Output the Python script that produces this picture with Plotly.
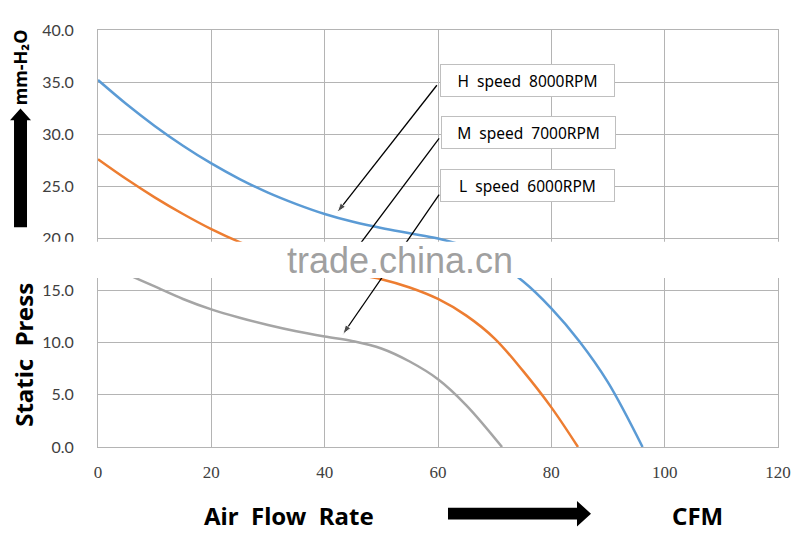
import plotly.graph_objects as go

# fan P-Q curves (CFM vs mm-H2O)
h_cfm = [0, 5, 10, 15, 20, 25, 30, 35, 40, 45, 50, 55, 60, 65, 70, 75, 80, 85, 90, 96.1]
h_p = [35.2, 32.9, 30.8, 28.9, 27.2, 25.7, 24.4, 23.3, 22.35, 21.6, 21.0, 20.5, 20.0, 19.2, 17.8, 15.9, 13.3, 10.1, 6.2, 0]

m_cfm = [0, 5, 10, 15, 20, 25, 30, 35, 40, 45, 50, 55, 60, 65, 70, 75, 80, 84.7]
m_p = [27.6, 25.7, 23.95, 22.35, 20.9, 19.65, 18.6, 17.75, 17.1, 16.6, 16.1, 15.3, 14.2, 12.6, 10.4, 7.3, 3.8, 0]

l_cfm = [0, 5, 10, 15, 20, 25, 30, 35, 40, 45, 50, 55, 60, 65, 71.3]
l_p = [17.9, 16.6, 15.4, 14.2, 13.2, 12.4, 11.7, 11.1, 10.6, 10.15, 9.45, 8.2, 6.5, 4.0, 0]

labels = ["H\u00a0 speed\u00a0 8000RPM", "M\u00a0 speed\u00a0 7000RPM", "L\u00a0 speed\u00a0 6000RPM"]
label_x = [75.8, 76.0, 75.8]
label_y = [35.2, 30.2, 25.1]

# callout arrows: from box edge to the curve
arrow_x0 = [59.8, 60.2, 60.2]
arrow_y0 = [34.7, 29.6, 24.2]
arrow_x1 = [42.2, 43.1, 43.2]
arrow_y1 = [22.5, 17.2, 10.8]

colors = ["#5B9BD5", "#ED7D31", "#A5A5A5"]
grid = "#B4B4B4"

# plot area in screen pixels (page has an 8px body margin)
L, R, T, B = 98, 778, 22, 447
OFF = 8


def px(x, y):
    return (x - L) / (R - L), (B - y) / (B - T)


def poly(pts):
    s = ""
    for i, (x, y) in enumerate(pts):
        a, b = px(x, y)
        s += ("M" if i == 0 else "L") + "%.4f,%.4f " % (a, b)
    return s + "Z"


def label(x, y, text, size, angle=0):
    a, b = px(x, y)
    fig.add_annotation(xref="paper", yref="paper", x=a, y=b, text=text, textangle=angle,
                       showarrow=False, xanchor="center", yanchor="middle",
                       font=dict(family="Noto Sans", size=size, color="black"))


fig = go.Figure()
for xs, ys, c in zip([h_cfm, m_cfm, l_cfm], [h_p, m_p, l_p], colors):
    fig.add_trace(go.Scatter(x=xs, y=ys, mode="lines",
                             line=dict(color=c, width=2.5, shape="spline", smoothing=1.0),
                             showlegend=False, hoverinfo="skip"))

for i in range(3):
    fig.add_trace(go.Scatter(x=[arrow_x0[i], arrow_x1[i]], y=[arrow_y0[i], arrow_y1[i]],
                             mode="lines+markers",
                             line=dict(color="black", width=1.3),
                             marker=dict(symbol=["circle", "arrow"], size=[0, 10],
                                         angleref="previous", color="black"),
                             showlegend=False, hoverinfo="skip"))

for t, x, y in zip(labels, label_x, label_y):
    fig.add_annotation(x=x, y=y, text=t, showarrow=False, xanchor="center", yanchor="middle",
                       width=173, height=31, borderpad=0, bgcolor="white",
                       bordercolor="#BFBFBF", borderwidth=1,
                       font=dict(family="Noto Sans", size=15.5, color="black"))

# watermark band
fig.add_shape(type="rect", xref="paper", yref="y", x0=-0.2, x1=1.1, y0=16.2, y1=19.7,
              fillcolor="white", line_width=0, layer="above")
fig.add_annotation(x=53.3, y=17.9, text="trade.china.cn", showarrow=False,
                   xanchor="center", yanchor="middle",
                   font=dict(family="Liberation Sans", size=36, color="#A0A0A0"))

# axis titles with block arrows
label(24, 353, "<b>Static\u00a0 Press</b>", 24, -90)
label(20, 60, "<b>mm-H\u2082O</b>", 18, -90)
fig.add_shape(type="path", xref="paper", yref="paper", fillcolor="black", line_width=0,
              path=poly([(14, 223), (27, 223), (27, 114), (31, 114), (20.5, 102),
                         (10, 114), (14, 114)]))

label(289, 517, "<b>Air\u00a0 Flow\u00a0 Rate</b>", 24)
label(697, 517, "<b>CFM</b>", 24)
fig.add_shape(type="path", xref="paper", yref="paper", fillcolor="black", line_width=0,
              path=poly([(448, 509), (577, 509), (577, 502), (591, 515), (577, 528),
                         (577, 521), (448, 521)]))

fig.update_xaxes(range=[0, 120], dtick=20, showgrid=True, gridcolor=grid, gridwidth=1,
                 zeroline=False, showline=True, linecolor=grid, mirror=True,
                 ticklabelstandoff=10,
                 tickfont=dict(family="Liberation Serif", size=17, color="#404040"))
fig.update_yaxes(range=[0, 40], dtick=5, tickformat=".1f", showgrid=True, gridcolor=grid,
                 gridwidth=1, zeroline=False, showline=True, linecolor=grid, mirror=True,
                 ticklabelstandoff=20,
                 tickfont=dict(family="Lato", size=16, color="#404040"))
fig.update_layout(width=800, height=538,
                  margin=dict(l=L - OFF, r=800 - R + OFF, t=T - OFF, b=538 - B + OFF),
                  plot_bgcolor="white", paper_bgcolor="white")

fig.write_html("out.html")
